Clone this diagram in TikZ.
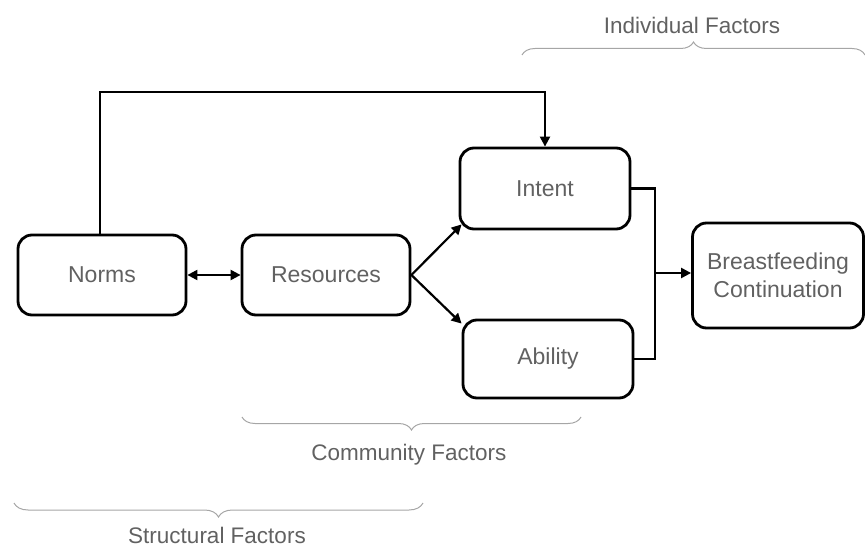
\documentclass[tikz,border=0pt]{standalone}
\usepackage{fontspec}
\setmainfont{Liberation Sans}
\usetikzlibrary{arrows.meta,calc,decorations.pathreplacing}
\begin{document}
\begin{tikzpicture}[x=1pt,y=-1pt,
  box/.style={draw=black,line width=2.8pt,rounded corners=14pt,text=black!62,
    font=\fontsize{23}{28}\selectfont,align=center,inner sep=0pt},
  conn/.style={draw=black,line width=2.2pt},
  arr/.style={conn,-{Triangle[length=10pt,width=10pt]}},
  darr/.style={conn,{Triangle[length=10pt,width=10pt]}-{Triangle[length=10pt,width=10pt]}},
  brc/.style={draw=black!35,line width=1pt,decorate},
  lbl/.style={text=black!62,font=\fontsize{22.5}{27}\selectfont}]
\useasboundingbox (0,0) rectangle (865,548);
\node[box,minimum width=168pt,minimum height=80pt] (norms) at (102,275) {Norms};
\node[box,minimum width=168pt,minimum height=80pt] (res) at (326,275) {Resources};
\node[box,minimum width=170pt,minimum height=81pt] (intent) at (545,188.5) {Intent};
\node[box,minimum width=170pt,minimum height=78pt] (ability) at (548,359) {Ability};
\node[box,minimum width=171pt,minimum height=105pt] (bf) at (778,275.5) {Breastfeeding\\Continuation};
\coordinate (top) at (545,92);
\coordinate (j) at (655,273);
\draw[arr] (norms.north -| 100,0) |- (top) -- (intent.north);
\draw[darr] (norms.east) -- (res.east -| res.west);
\draw[arr] (res.east) -- ($(intent.south west)+(3,-6)$);
\draw[arr] (res.east) -- ($(ability.north west)+(0,5)$);
\draw[conn] (intent.east) -| (j);
\draw[conn] (ability.east) -| (j);
\draw[arr] (j) -- (j -| bf.west);
\draw[brc,decoration={brace,amplitude=13pt}] (522,55) -- (865,55);
\draw[brc,decoration={brace,amplitude=13pt}] (581,417) -- (242,417);
\draw[brc,decoration={brace,amplitude=14pt}] (423,503) -- (14,503);
\node[lbl] (ind) at (692,25) {Individual Factors};
\node[lbl] (com) at (409,455) {Community Factors};
\node[lbl] (str) at (217,535) {Structural Factors};
\end{tikzpicture}
\end{document}
